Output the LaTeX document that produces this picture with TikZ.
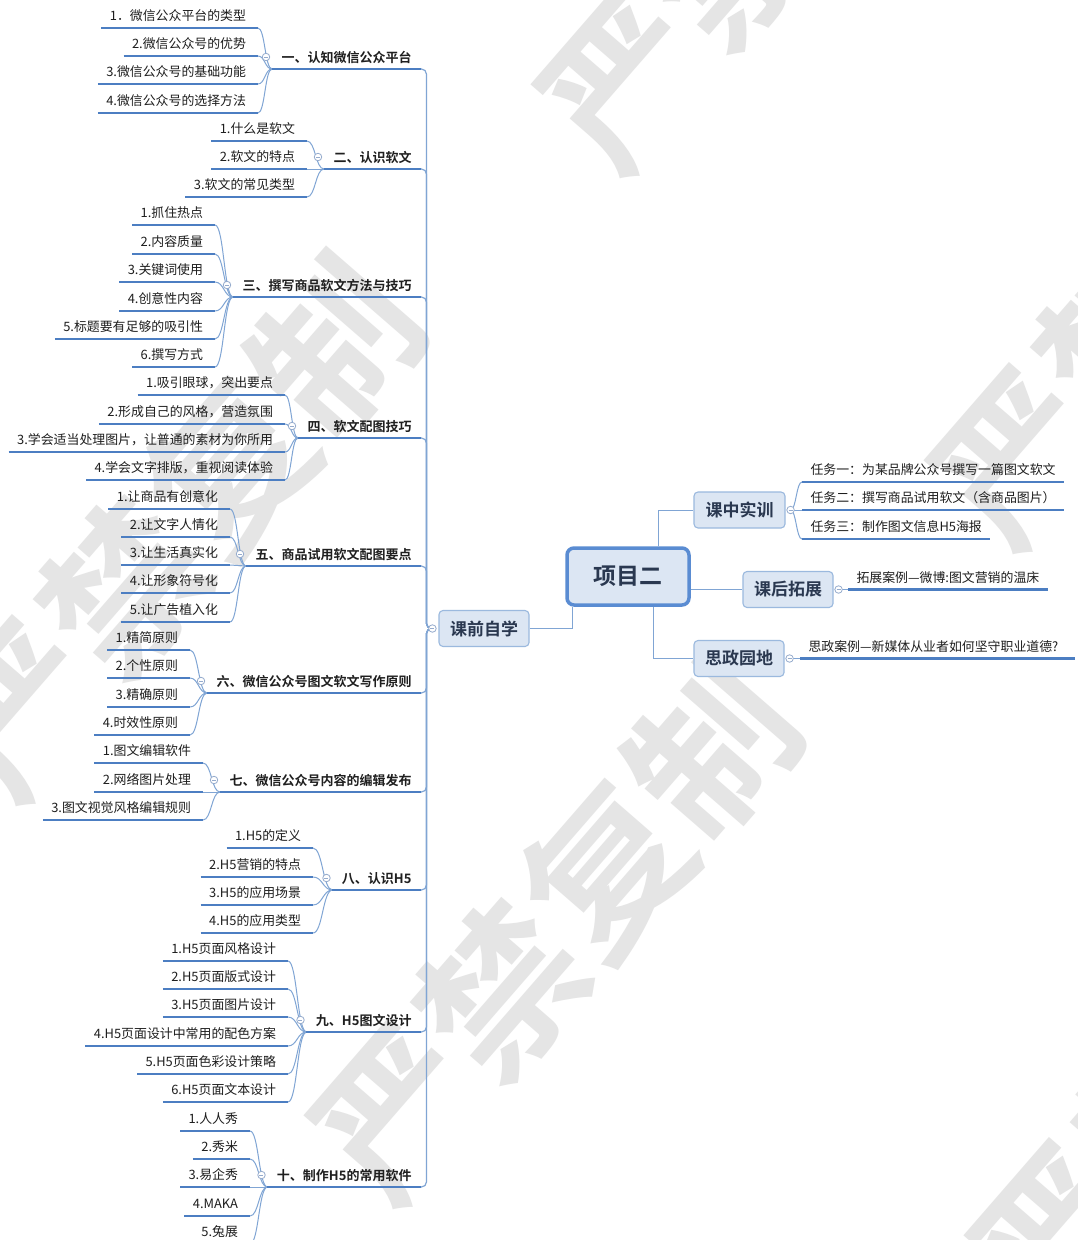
\documentclass[tikz,border=0pt]{standalone}
\usepackage{fontspec}
\setmainfont{Noto Sans CJK SC}[BoldFont={Noto Sans CJK SC Bold}]
\usetikzlibrary{calc}
\definecolor{ul}{RGB}{76,126,194}
\definecolor{cn}{RGB}{128,165,212}
\definecolor{bxfill}{RGB}{220,230,243}
\definecolor{bxdraw}{RGB}{155,185,222}
\definecolor{bxtext}{RGB}{42,56,80}
\definecolor{mainbd}{RGB}{90,140,210}
\definecolor{txt}{RGB}{30,30,30}
\definecolor{wm}{RGB}{229,229,229}
\definecolor{mk}{RGB}{150,172,205}
\pgfdeclarelayer{wmlayer}
\pgfdeclarelayer{bg}
\pgfsetlayers{wmlayer,bg,main}
\newcommand\mlink[2]{\draw[conn] let \p1=(#1), \p2=(#2) in (\p1) .. controls ({(\x1+\x2)/2},\y1) and ({(\x1+\x2)/2},\y2) .. (\p2);}
\tikzset{
 itm/.style={font=\fontsize{12.9}{15}\selectfont, text=txt, inner xsep=8.5pt, inner ysep=4.1pt, text height=9.8pt, text depth=3pt, outer sep=0pt,
   append after command={(\tikzlastnode.south west) edge[draw=ul, line width=2.1pt] (\tikzlastnode.south east)}},
 itmL/.style={itm, anchor=south east, execute at end node={\hspace{3.5pt}}},
 itmR/.style={itm, anchor=south west},
 cat/.style={itm, font=\fontsize{13}{15}\selectfont\bfseries, text=black!88, anchor=south east, inner ysep=3.5pt, inner xsep=9.5pt},
 box/.style={draw=bxdraw, fill=bxfill, line width=1.1pt, rounded corners=4pt, font=\fontsize{17}{20}\selectfont\bfseries, text=bxtext, minimum width=90pt, minimum height=36pt, inner sep=0pt},
 mkc/.style={circle, draw=mk, fill=white, line width=0.8pt, minimum size=7.5pt, inner sep=0pt,
   path picture={\draw[mk, line width=0.8pt] ([xshift=-2pt]path picture bounding box.center) -- ([xshift=2pt]path picture bounding box.center);}},
 conn/.style={draw=cn, line width=1pt},
 trunk/.style={draw=cn, line width=1.2pt, rounded corners=5pt},
 wmk/.style={text=wm, font=\fontsize{160}{160}\selectfont\bfseries, rotate=49, inner sep=0pt},
}
\begin{document}
\begin{tikzpicture}[x=1pt,y=-1pt]
\useasboundingbox (0,0) rectangle (1078,1240);
% background and watermarks
\begin{pgfonlayer}{wmlayer}
\fill[white] (0,0) rectangle (1078,1240);
\node[wmk] (w1) at (178,527) {严禁复制};
\node[wmk] (w2) at (555,930) {严禁复制};
\node[wmk] (w3) at (782,-101) {严禁复制};
\node[wmk] (w4) at (1175,275) {严禁复制};
\node[wmk] (w5) at (1215,1050) {严禁复制};
\end{pgfonlayer}

% central boxes
\node[box, draw=mainbd, line width=3.5pt, rounded corners=7pt, minimum width=122pt, minimum height=57pt, font=\fontsize{23}{26}\selectfont\bfseries] (xm) at (628,576.5) {项目二};
\node[box] (kq) at (484,628.5) {课前自学};
\node[box, minimum width=91pt] (kz) at (739.5,510) {课中实训};
\node[box] (kh) at (788,589.5) {课后拓展};
\node[box] (sz) at (739,658.5) {思政园地};

\node[mkc] (k0) at ([xshift=-6]kq.west) {};
\node[mkc] (q1) at ([xshift=5]kz.east) {};
\node[mkc] (q2) at ([xshift=5]kh.east) {};
\node[mkc] (q3) at ([xshift=5]sz.east) {};

% right items
\node[itmR] (t1) at (802,482) {任务一：为某品牌公众号撰写一篇图文软文};
\node[itmR] (t2) at (802,510) {任务二：撰写商品试用软文（含商品图片）};
\node[itmR] (t3) at (802,539) {任务三：制作图文信息H5海报};
\node[itmR] (e1) at (848,589.5) {拓展案例—微博:图文营销的温床};
\node[itmR, execute at end node={\hspace{8pt}}] (s1) at (800,658.5) {思政案例—新媒体从业者如何坚守职业道德?};

% categories
\node[cat] (g1) at (421,69) {一、认知微信公众平台};
\node[cat] (g2) at (421,169) {二、认识软文};
\node[cat] (g3) at (421,297) {三、撰写商品软文方法与技巧};
\node[cat] (g4) at (421,438) {四、软文配图技巧};
\node[cat] (g5) at (421,566) {五、商品试用软文配图要点};
\node[cat] (g6) at (421,693) {六、微信公众号图文软文写作原则};
\node[cat] (g7) at (421,792) {七、微信公众号内容的编辑发布};
\node[cat] (g8) at (421,890) {八、认识H5};
\node[cat] (g9) at (421,1032) {九、H5图文设计};
\node[cat] (g10) at (421,1187) {十、制作H5的常用软件};

\foreach \g in {g1,g2,g3,g4,g5,g6,g7,g8,g9,g10}
  {\node[mkc] (m\g) at ([shift={(-6,-12)}]\g.south west) {};}

% items
\node[itmL] (g1a) at (258,28) {1．微信公众平台的类型};
\node[itmL] (g1b) at (258,56) {2.微信公众号的优势};
\node[itmL] (g1c) at (258,84) {3.微信公众号的基础功能};
\node[itmL] (g1d) at (258,113) {4.微信公众号的选择方法};

\node[itmL] (g2a) at (307,141) {1.什么是软文};
\node[itmL] (g2b) at (307,169) {2.软文的特点};
\node[itmL] (g2c) at (307,197) {3.软文的常见类型};

\node[itmL] (g3a) at (215,225) {1.抓住热点};
\node[itmL] (g3b) at (215,254) {2.内容质量};
\node[itmL] (g3c) at (215,282) {3.关键词使用};
\node[itmL] (g3d) at (215,311) {4.创意性内容};
\node[itmL] (g3e) at (215,339) {5.标题要有足够的吸引性};
\node[itmL] (g3f) at (215,367) {6.撰写方式};

\node[itmL] (g4a) at (285,395) {1.吸引眼球，突出要点};
\node[itmL] (g4b) at (285,424) {2.形成自己的风格，营造氛围};
\node[itmL] (g4c) at (285,452) {3.学会适当处理图片，让普通的素材为你所用};
\node[itmL] (g4d) at (285,480) {4.学会文字排版，重视阅读体验};

\node[itmL] (g5a) at (230,509) {1.让商品有创意化};
\node[itmL] (g5b) at (230,537) {2.让文字人情化};
\node[itmL] (g5c) at (230,565) {3.让生活真实化};
\node[itmL] (g5d) at (230,593) {4.让形象符号化};
\node[itmL] (g5e) at (230,622) {5.让广告植入化};

\node[itmL] (g6a) at (190,650) {1.精简原则};
\node[itmL] (g6b) at (190,678) {2.个性原则};
\node[itmL] (g6c) at (190,707) {3.精确原则};
\node[itmL] (g6d) at (190,735) {4.时效性原则};

\node[itmL] (g7a) at (203,763) {1.图文编辑软件};
\node[itmL] (g7b) at (203,792) {2.网络图片处理};
\node[itmL] (g7c) at (203,820) {3.图文视觉风格编辑规则};

\node[itmL] (g8a) at (313,848) {1.H5的定义};
\node[itmL] (g8b) at (313,877) {2.H5营销的特点};
\node[itmL] (g8c) at (313,905) {3.H5的应用场景};
\node[itmL] (g8d) at (313,933) {4.H5的应用类型};

\node[itmL] (g9a) at (288,961) {1.H5页面风格设计};
\node[itmL] (g9b) at (288,989) {2.H5页面版式设计};
\node[itmL] (g9c) at (288,1017) {3.H5页面图片设计};
\node[itmL] (g9d) at (288,1046) {4.H5页面设计中常用的配色方案};
\node[itmL] (g9e) at (288,1074) {5.H5页面色彩设计策略};
\node[itmL] (g9f) at (288,1102) {6.H5页面文本设计};

\node[itmL] (g10a) at (250,1131) {1.人人秀};
\node[itmL] (g10b) at (250,1159) {2.秀米};
\node[itmL] (g10c) at (250,1187) {3.易企秀};
\node[itmL] (g10d) at (250,1216) {4.MAKA};
\node[itmL] (g10e) at (250,1244) {5.兔展};

% connectors
\begin{pgfonlayer}{bg}
\draw[conn] (kq.east) -| ([xshift=-56]xm.south);
\draw[conn] ([xshift=30]xm.north) |- (kz.west);
\draw[conn] (xm.east |- kh.west) -- (kh.west);
\draw[conn] ([xshift=25]xm.south) |- (sz.west);

\mlink{q1.center}{t1.south west}
\mlink{q1.center}{t2.south west}
\mlink{q1.center}{t3.south west}
\draw[conn] (q2.center) -- (e1.south west);
\draw[conn] (q3.center) -- (s1.south west);

\foreach \g in {g1,g2,g3,g4,g5,g6,g7,g8,g9,g10}
  {\draw[trunk] (\g.south east) -| ([xshift=-6]k0.center) -- (k0.center);}

\foreach \i in {a,b,c,d} {\mlink{g1.south west}{g1\i.south east}}
\foreach \i in {a,b,c} {\mlink{g2.south west}{g2\i.south east}}
\foreach \i in {a,b,c,d,e,f} {\mlink{g3.south west}{g3\i.south east}}
\foreach \i in {a,b,c,d} {\mlink{g4.south west}{g4\i.south east}}
\foreach \i in {a,b,c,d,e} {\mlink{g5.south west}{g5\i.south east}}
\foreach \i in {a,b,c,d} {\mlink{g6.south west}{g6\i.south east}}
\foreach \i in {a,b,c} {\mlink{g7.south west}{g7\i.south east}}
\foreach \i in {a,b,c,d} {\mlink{g8.south west}{g8\i.south east}}
\foreach \i in {a,b,c,d,e,f} {\mlink{g9.south west}{g9\i.south east}}
\foreach \i in {a,b,c,d,e} {\mlink{g10.south west}{g10\i.south east}}
\end{pgfonlayer}
\end{tikzpicture}
\end{document}
